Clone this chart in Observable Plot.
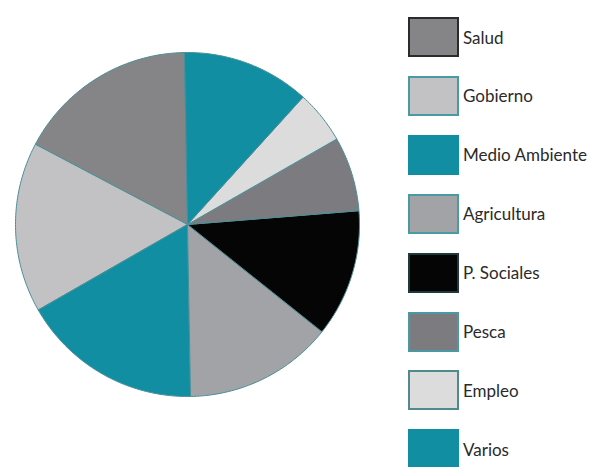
<!DOCTYPE html>
<html>
<head>
<meta charset="utf-8">
<script src="https://cdn.jsdelivr.net/npm/d3@7"></script>
<script src="https://cdn.jsdelivr.net/npm/@observablehq/plot@0.6"></script>
<style>
  html, body { margin: 0; padding: 0; background: #fff; }
  body { width: 594px; height: 467px; overflow: hidden; position: relative; font-family: Lato, "Open Sans", sans-serif; }
  #chart { position: absolute; left: 0; top: 0; }
  #legend { position: absolute; left: 0; top: 0; width: 594px; height: 467px; }
  .item { position: absolute; left: 408px; height: 40px; display: flex; align-items: center; }
  .box { box-sizing: border-box; width: 51px; height: 40px; border: 2px solid #4b9aa3; flex: none; }
  .lbl { margin-left: 4px; font-size: 17px; color: #2a2a2a; white-space: nowrap; }
</style>
</head>
<body>
<div id="chart"></div>
<div id="legend"></div>
<script>
// Data (legend order; pie runs counter-clockwise from 12 o'clock)
const categories = ["Salud", "Gobierno", "Medio Ambiente", "Agricultura", "P. Sociales", "Pesca", "Empleo", "Varios"];
const values = [17, 16, 17, 14, 12, 7, 5, 12];
const colors = ["#858487", "#c2c2c5", "#128ea2", "#a2a3a6", "#050505", "#7c7c80", "#dcdcdc", "#128ea2"];
const legendBorders = ["#2b2b2b", "#4b9aa3", "#128ea2", "#4b9aa3", "#1f3a3d", "#4b9aa3", "#4f8a8e", "#128ea2"];

const startDeg = -1;
const pie = d3.pie().sort(null)
  .startAngle(startDeg * Math.PI / 180)
  .endAngle(startDeg * Math.PI / 180 - 2 * Math.PI);
const arcs = pie(values);

function slicePoints(a, name) {
  const pts = [{x: 0, y: 0, name}];
  const n = Math.max(2, Math.ceil(Math.abs(a.endAngle - a.startAngle) / (Math.PI / 180)));
  for (let k = 0; k <= n; k++) {
    const t = a.startAngle + (a.endAngle - a.startAngle) * k / n;
    pts.push({x: Math.sin(t), y: Math.cos(t), name});
  }
  pts.push({x: 0, y: 0, name});
  return pts;
}

const marks = arcs.map((a, i) =>
  Plot.line(slicePoints(a, categories[i]), {
    x: "x", y: "y", fill: colors[i], stroke: "#4a8f98", strokeWidth: 1, curve: "linear"
  })
);

const W = 380, H = 467;
const chart = Plot.plot({
  width: W, height: H,
  marginLeft: 15, marginRight: W - 359, marginTop: 52, marginBottom: H - 396,
  x: {domain: [-1, 1], axis: null},
  y: {domain: [-1, 1], axis: null},
  marks
});
document.getElementById("chart").appendChild(chart);

// Legend
const legend = document.getElementById("legend");
categories.forEach((c, i) => {
  const it = document.createElement("div");
  it.className = "item";
  it.style.top = (17 + i * 58.9) + "px";
  const b = document.createElement("div");
  b.className = "box";
  b.style.background = colors[i];
  b.style.borderColor = legendBorders[i];
  const l = document.createElement("span");
  l.className = "lbl";
  l.textContent = c;
  it.appendChild(b); it.appendChild(l);
  legend.appendChild(it);
});
</script>
</body>
</html>
